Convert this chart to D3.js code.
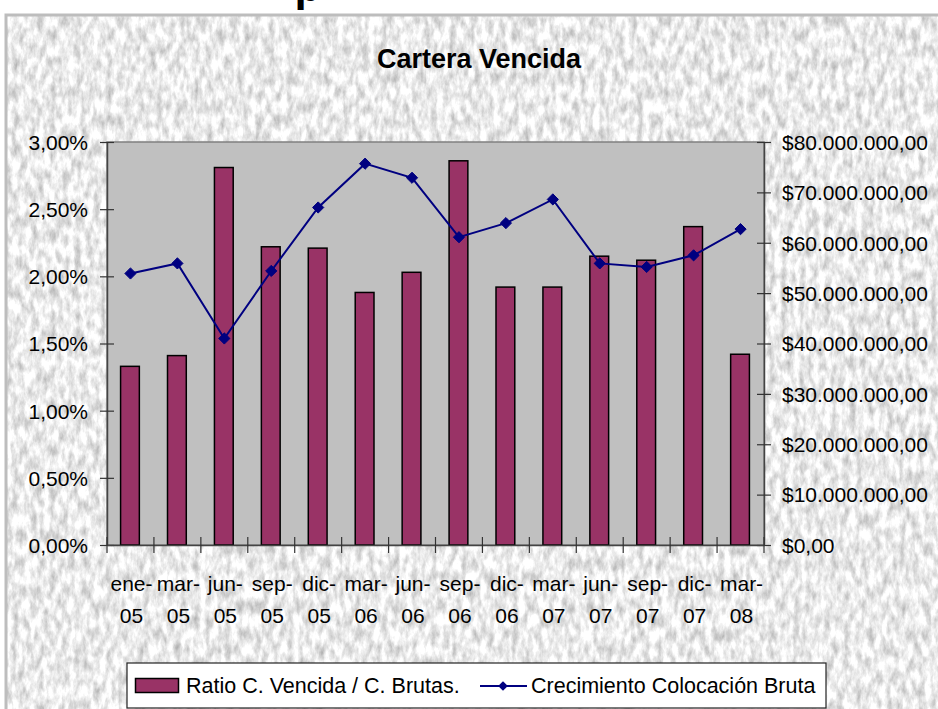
<!DOCTYPE html>
<html>
<head>
<meta charset="utf-8">
<script src="https://cdnjs.cloudflare.com/ajax/libs/d3/7.8.5/d3.min.js"></script>
<style>
	html, body { margin: 0; padding: 0; background: #fff; }
	svg { display: block; font-family: "Liberation Sans", Arial, sans-serif; }
</style>
</head>
<body>
<svg id="chart" width="938" height="709"></svg>
<script>
// datos
let meses = ["ene-05", "mar-05", "jun-05", "sep-05", "dic-05", "mar-06", "jun-06", "sep-06", "dic-06", "mar-07", "jun-07", "sep-07", "dic-07", "mar-08"];
let ratio = [1.33, 1.41, 2.81, 2.22, 2.21, 1.88, 2.03, 2.86, 1.92, 1.92, 2.15, 2.12, 2.37, 1.42]; // %
let colocacion = [53.9, 55.9, 41.0, 54.4, 67.0, 75.7, 72.9, 61.1, 63.9, 68.6, 55.9, 55.2, 57.5, 62.7]; // millones
let ticksIzq = [0, 0.5, 1, 1.5, 2, 2.5, 3];
let ticksDer = [0, 10, 20, 30, 40, 50, 60, 70, 80];
let nombreBarras = "Ratio C. Vencida / C. Brutas.";
let nombreLinea = "Crecimiento Colocación Bruta";

let svg = d3.select("#chart");
let pLeft = 107, pRight = 764, pTop = 142, pBottom = 545;

// fondo tipo marmol
let defs = svg.append("defs");
let filter = defs.append("filter").attr("id", "marmol")
	.attr("x", 0).attr("y", 0).attr("width", "100%").attr("height", "100%")
	.attr("color-interpolation-filters", "sRGB");
filter.append("feTurbulence").attr("type", "fractalNoise")
	.attr("baseFrequency", "0.16 0.07").attr("numOctaves", 4).attr("seed", 11);
filter.append("feColorMatrix").attr("type", "matrix")
	.attr("values", "0.5 0 0 0 0.67  0.5 0 0 0 0.67  0.5 0 0 0 0.67  0 0 0 0 1");

svg.append("rect").attr("x", 6).attr("y", 15).attr("width", 940).attr("height", 700)
	.attr("filter", "url(#marmol)");
svg.append("path").attr("d", "M6,715 V15 H940")
	.attr("fill", "none").attr("stroke", "#bdbdbd").attr("stroke-width", 3);

// pedazo del titulo de arriba cortado
svg.append("text").attr("x", 308).attr("y", 1).attr("text-anchor", "middle")
	.attr("font-size", 44).attr("font-weight", "bold").text("p");

svg.append("text").attr("x", 479).attr("y", 68).attr("text-anchor", "middle")
	.attr("font-size", 27).attr("font-weight", "bold").text("Cartera Vencida");

let x = d3.scaleBand().domain(meses).range([pLeft, pRight]).padding(0);
let yIzq = d3.scaleLinear().domain([0, 3]).range([pBottom, pTop]);
let yDer = d3.scaleLinear().domain([0, 80]).range([pBottom, pTop]);

svg.append("rect").attr("x", pLeft).attr("y", pTop)
	.attr("width", pRight - pLeft).attr("height", pBottom - pTop)
	.attr("fill", "#c0c0c0").attr("stroke", "#808080").attr("stroke-width", 1.5);

let barW = x.bandwidth() * 0.4;
svg.append("g").selectAll("rect").data(ratio).join("rect")
	.attr("x", (d, i) => x(meses[i]) + x.bandwidth() / 2 - barW / 2 - 0.5)
	.attr("y", d => yIzq(d))
	.attr("width", barW)
	.attr("height", d => pBottom - yIzq(d))
	.attr("fill", "#993366").attr("stroke", "#000").attr("stroke-width", 1.5);

// ejes
let ejeIzq = d3.axisLeft(yIzq).tickValues(ticksIzq).tickSizeOuter(0)
	.tickFormat(d => d3.format(".2f")(d).replace(".", ",") + "%");
let gIzq = svg.append("g").attr("transform", `translate(${pLeft},0)`).call(ejeIzq);
gIzq.selectAll(".tick line").attr("x1", -7).attr("x2", 7);

let fmtDinero = d => "$" + (d === 0 ? "0,00" : d3.format(",")(d * 1e6).replace(/,/g, ".") + ",00");
let ejeDer = d3.axisRight(yDer).tickValues(ticksDer).tickSizeOuter(0).tickFormat(fmtDinero);
let gDer = svg.append("g").attr("transform", `translate(${pRight},0)`).call(ejeDer);
gDer.selectAll(".tick line").attr("x1", -7).attr("x2", 7);

let gX = svg.append("g").attr("transform", `translate(0,${pBottom})`)
	.call(d3.axisBottom(x).tickSize(0).tickSizeOuter(0).tickFormat(""));
gX.selectAll(".tick").remove();
let cortes = meses.map(m => x(m)).concat([pRight]);
gX.selectAll(".corte").data(cortes).join("line").attr("class", "corte")
	.attr("x1", d => d).attr("x2", d => d).attr("y1", -8).attr("y2", 8)
	.attr("stroke", "#333").attr("stroke-width", 1.2);

[gIzq, gDer, gX].forEach(g => {
	g.select(".domain").attr("stroke", "#444").attr("stroke-width", 1.5);
	g.selectAll(".tick line").attr("stroke", "#333").attr("stroke-width", 1.2);
	g.selectAll("text").attr("font-size", 21).attr("fill", "#000")
		.attr("font-family", "'Liberation Sans', Arial, sans-serif");
});
gIzq.selectAll(".tick text").attr("x", -19).attr("dy", "0.35em");
gDer.selectAll(".tick text").attr("x", 18).attr("dy", "0.35em");

let etiquetas = svg.append("g").selectAll("text").data(meses).join("text")
	.attr("text-anchor", "middle").attr("font-size", 21)
	.attr("transform", d => `translate(${x(d) + x.bandwidth() / 2 + 1},0)`);
etiquetas.append("tspan").attr("x", 0).attr("y", 591).text(d => d.split("-")[0] + "-");
etiquetas.append("tspan").attr("x", 0).attr("y", 623).text(d => d.split("-")[1]);

// linea
let linea = d3.line()
	.x((d, i) => x(meses[i]) + x.bandwidth() / 2)
	.y(d => yDer(d));
svg.append("path").datum(colocacion).attr("d", linea)
	.attr("fill", "none").attr("stroke", "#000080").attr("stroke-width", 2);
let diamante = d3.symbol().type(d3.symbolDiamond2).size(80);
svg.append("g").selectAll("path").data(colocacion).join("path")
	.attr("d", diamante)
	.attr("transform", (d, i) => `translate(${x(meses[i]) + x.bandwidth() / 2},${yDer(d)})`)
	.attr("fill", "#000080").attr("stroke", "#000080").attr("stroke-width", 1);

// leyenda
let ley = svg.append("g");
ley.append("rect").attr("x", 127).attr("y", 663).attr("width", 699).attr("height", 45)
	.attr("fill", "#fff").attr("stroke", "#222").attr("stroke-width", 1.2);
ley.append("rect").attr("x", 135.5).attr("y", 678.5).attr("width", 43).attr("height", 14)
	.attr("fill", "#993366").attr("stroke", "#000").attr("stroke-width", 1.5);
ley.append("text").attr("x", 186).attr("y", 693).attr("font-size", 21.5).text(nombreBarras);
ley.append("line").attr("x1", 480).attr("x2", 527).attr("y1", 686).attr("y2", 686)
	.attr("stroke", "#000080").attr("stroke-width", 2);
ley.append("path").attr("d", d3.symbol().type(d3.symbolDiamond2).size(60))
	.attr("transform", "translate(503,686)").attr("fill", "#000080");
ley.append("text").attr("x", 531).attr("y", 693).attr("font-size", 21.5).text(nombreLinea);
</script>
</body>
</html>
